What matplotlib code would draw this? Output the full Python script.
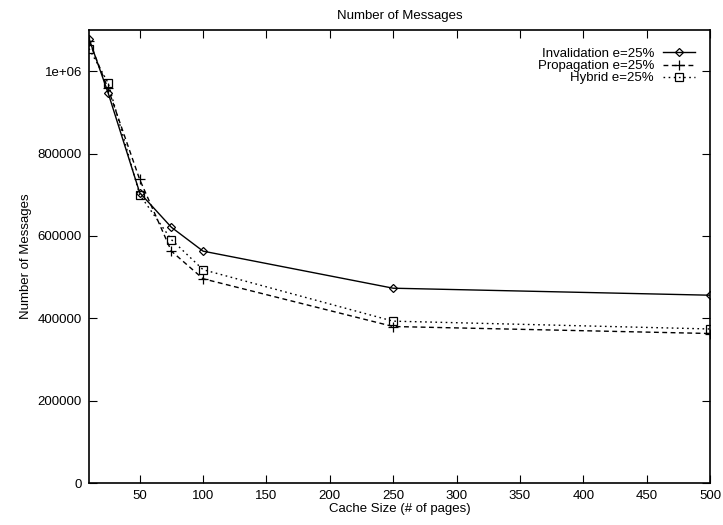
import matplotlib.pyplot as plt

plt.rcParams['font.family'] = ['Liberation Sans', 'DejaVu Sans']

# Cache sizes (# of pages)
cache_size = [10, 25, 50, 75, 100, 250, 500]

# Number of messages per scheme
invalidation = [1079000, 948000, 705000, 621000, 563000, 473000, 456000]
propagation = [1074000, 958000, 737000, 563000, 496000, 380000, 363000]
hybrid = [1055000, 972000, 700000, 591000, 518000, 393000, 374000]

x_ticks = [50, 100, 150, 200, 250, 300, 350, 400, 450, 500]
y_ticks = [0, 200000, 400000, 600000, 800000, 1000000]
y_tick_labels = ["0", "200000", "400000", "600000", "800000", "1e+06"]

fig = plt.figure(figsize=(7.23, 5.25), dpi=100)
ax = fig.add_axes([89 / 723, 1 - 483 / 525, (710 - 89) / 723, (483 - 30) / 525])

ax.plot(cache_size, invalidation, color="black", linestyle="-", linewidth=1,
        marker="D", markersize=4, markerfacecolor="none", markeredgewidth=0.9,
        label="Invalidation e=25%")
ax.plot(cache_size, propagation, color="black", linestyle=(0, (3.5, 2.5)), linewidth=1,
        marker="+", markersize=6.5, markeredgewidth=0.9,
        label="Propagation e=25%")
ax.plot(cache_size, hybrid, color="black", linestyle=(0, (1.2, 2.5)), linewidth=1,
        marker="s", markersize=5.5, markerfacecolor="none", markeredgewidth=0.9,
        label="Hybrid e=25%")

ax.set_xlim(10, 500)
ax.set_ylim(0, 1100000)
ax.set_xticks(x_ticks)
ax.set_yticks(y_ticks)
ax.set_yticklabels(y_tick_labels)
ax.tick_params(direction="in", top=True, right=True, length=6, width=0.8,
               labelsize=9.5, pad=5)
for s in ax.spines.values():
    s.set_linewidth(1.2)

ax.set_xlabel("Cache Size (# of pages)", fontsize=9.5, labelpad=1)
ax.set_ylabel("Number of Messages", fontsize=9.5, labelpad=4)
ax.set_title("Number of Messages", fontsize=9.5, pad=8)

ax.legend(loc="upper right", frameon=False, markerfirst=False, fontsize=9.5,
          handlelength=2.4, handletextpad=0.7, labelspacing=0.0,
          borderaxespad=0.6, bbox_to_anchor=(0.997, 0.99))

fig.savefig("out.png", dpi=100)
